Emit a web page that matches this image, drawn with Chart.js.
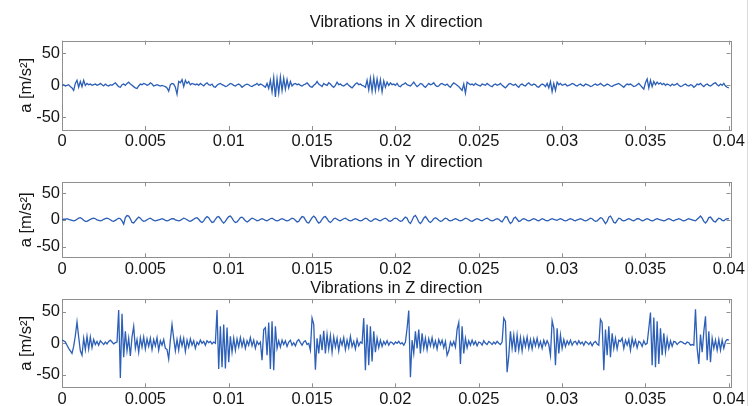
<!DOCTYPE html>
<html>
<head>
<meta charset="utf-8">
<script src="https://cdn.jsdelivr.net/npm/chart.js@4.4.1/dist/chart.umd.min.js"></script>
<style>
  html, body { margin: 0; padding: 0; background: #fff; }
  #wrap { position: relative; width: 752px; height: 406px; overflow: hidden; background: #fff; }
  #wrap canvas { position: absolute; left: 0; }
  #edge { position: absolute; left: 747px; top: 0; width: 1px; height: 406px; background: #dadada; }
</style>
</head>
<body>
<div id="wrap">
  <canvas id="chartX" width="752" height="152" style="top:0px"></canvas>
  <canvas id="chartY" width="752" height="124" style="top:152px"></canvas>
  <canvas id="chartZ" width="752" height="130" style="top:276px"></canvas>
  <div id="edge"></div>
</div>
<script>
// accelerometer record, one sample every 0.1 ms (0 .. 0.04 s)
const SAMPLE_STEP = 0.0001;

const xTickValues = [0, 0.005, 0.01, 0.015, 0.02, 0.025, 0.03, 0.035, 0.04];
const xTickLabels = ['0', '0.005', '0.01', '0.015', '0.02', '0.025', '0.03', '0.035', '0.04'];
const yTickValues = [-50, 0, 50];
const yTickLabels = ['-50', '0', '50'];

const titles = ['Vibrations in X direction', 'Vibrations in Y direction', 'Vibrations in Z direction'];
const yAxisTitle = 'a [m/s\u00B2]';

const accelX = [
  0, 1, -1, 0, 1, -2, -4, -8, 3, 8,
  -3, 6, -2, 8, 0, 3, 1, 2, 0, 1,
  2, 0, 1, 3, 1, -1, 2, 0, -1, 1,
  0, 2, 4, 1, -2, -3, 1, 2, 0, 3,
  5, 2, 0, -2, -4, -5, -1, 2, 1, 3,
  2, 0, 1, 4, 2, -1, 0, 1, 0, -1,
  0, -1, -2, -4, -9, 1, 3, 2, -3, -14,
  6, 4, 9, -2, 8, 3, 6, 1, 3, 2,
  1, 2, 0, 3, 1, -1, 2, 4, 1, 0,
  2, -2, -3, 0, 2, 3, 1, 0, -2, -1,
  1, 3, 2, 0, -1, 1, 2, 0, -3, -1,
  1, 2, 1, -1, -2, 0, 1, 3, 0, 2,
  1, -1, -3, 3, -5, 8, -10, 12, -18, 10,
  -12, 13, -8, 11, -6, 9, -4, 6, -1, 2,
  3, 1, 2, 0, -1, 1, 2, 4, 1, -2,
  -3, 0, 2, 6, 2, 0, -2, 3, 1, 0,
  4, 2, -1, -3, 0, 5, 1, 2, 0, -1,
  1, 3, 0, -2, -4, -1, 2, 4, 1, 2,
  0, -1, -3, 8, -7, 11, -9, 12, -8, 10,
  -6, 9, -10, 7, -3, 5, 0, 4, 1, 2,
  0, 3, -1, -2, 1, 2, 4, 1, 0, -1,
  2, 5, 1, -2, 0, 3, 2, -1, -3, 0,
  3, 1, 2, 4, 0, -2, -1, 2, 3, 1,
  0, 2, -1, -3, 1, 4, 2, 0, -2, -5,
  -8, 2, -12, 5, 3, 1, 2, 0, 3, 1,
  0, -1, 2, 1, 0, 3, 1, -1, -2, 1,
  2, 0, 1, 3, 0, -2, -4, -1, 2, 3,
  1, 0, 2, -1, -3, 1, 2, 0, -1, 2,
  4, 1, 0, 2, 1, -2, -3, 0, 2, 1,
  -2, 3, -4, 6, -10, 3, -8, 5, 1, 3,
  0, 1, 2, -1, 0, 1, 3, 2, 0, -1,
  1, 2, 0, -1, 2, 1, 0, -2, -1, 1,
  2, 0, 1, 3, 1, -1, 0, 2, 1, -1,
  -2, 0, 1, 2, 3, 1, -1, -3, 0, 2,
  1, 2, 0, -2, -1, 1, 3, 0, -3, -6,
  4, 10, -4, 8, -2, 6, 1, 5, 2, 4,
  1, 3, 0, 2, 1, -1, 2, 0, 1, 3,
  0, -2, -1, 1, 2, 0, -1, 1, 0, -3,
  -1, 2, 1, 3, 0, -2, 1, 2, 0, -1,
  1, 3, 4, 1, -1, 2, 0, 3, -1, -3,
  -4,
];

const accelY = [
  0, 1, 1, 2, 1, 0, -1, -2, -1, 1,
  3, 4, 2, -1, -3, -3, -1, 1, 2, 3,
  2, 0, -1, -2, -1, 1, 2, 3, 2, 0,
  -2, -3, -1, 1, 3, 2, -2, -8, 4, 8,
  7, 2, -5, -6, -2, 2, 5, 3, -1, -3,
  -2, 0, 2, 3, 1, -1, -2, -1, 0, 1,
  2, 1, -1, -2, -1, 1, 2, 2, 0, -1,
  -2, -1, 1, 3, 2, 0, -2, -3, -1, 1,
  3, 4, 1, -3, -5, -2, 3, 6, 4, -1,
  -5, -4, 1, 5, 6, 2, -3, -6, -3, 2,
  6, 7, 3, -2, -5, -4, 0, 4, 5, 2,
  -2, -4, -2, 1, 3, 2, 0, -2, -1, 1,
  2, 1, -1, -2, 0, 2, 3, 1, -1, -2,
  -1, 1, 2, 1, -1, -2, -1, 1, 3, 2,
  -1, -4, -3, 2, 6, 5, 0, -5, -6, -1,
  4, 7, 4, -2, -6, -4, 1, 5, 6, 2,
  -3, -5, -2, 2, 3, 1, -1, -2, 0, 2,
  3, 1, -1, -2, -1, 1, 2, 1, -1, -2,
  -1, 1, 3, 2, -1, -3, -2, 1, 2, 1,
  -1, -2, 0, 2, 3, 1, -2, -3, -1, 2,
  3, 2, -1, -3, -2, 2, 5, 3, -4, -7,
  -1, 6, 8, 3, -4, -7, -3, 3, 6, 2,
  -3, -5, -2, 2, 4, 2, -1, -3, -2, 1,
  3, 2, -1, -2, -1, 1, 2, 1, -1, -2,
  -1, 1, 3, 2, 0, -2, -3, -1, 1, 2,
  1, -1, -2, 0, 2, 3, 1, -1, -2, -1,
  1, 2, 1, -2, -4, 1, 6, 5, -2, -7,
  -4, 3, 5, 1, -3, -2, 1, 2, 1, -1,
  -2, -1, 1, 2, 1, -1, -2, 0, 2, 1,
  -1, -2, -1, 1, 2, 1, 0, -1, 1, 2,
  1, -1, -2, -1, 1, 2, 1, -1, -2, 0,
  1, 2, 1, -1, -2, -1, 1, 3, 2, -1,
  -3, -2, 1, 4, 3, -2, -7, -3, 5, 7,
  2, -5, -6, -1, 3, 2, -1, -2, -1, 1,
  2, 1, -1, -2, 0, 2, 2, 0, -2, -1,
  1, 2, 1, -1, -2, -1, 1, 2, 1, 0,
  -1, -2, -1, 1, 2, 1, -1, -2, 0, 1,
  2, 1, -1, -2, -1, 1, 2, 1, 0, -1,
  -2, 1, 4, 7, 3, -3, -6, -2, 4, 5,
  1, -3, -4, 0, 3, 2, -1, -2, 1, 2,
  2,
];

const accelZ = [
  5, 4, 2, -3, -8, -12, -16, -5, 12, 34,
  10, -12, -19, 8, -10, 11, -9, 10, -7, 6,
  -2, 3, -3, 4, 1, -2, 2, -1, 3, 5,
  2, -1, 1, 2, 53, -55, 47, -22, 19, -12,
  8, -20, 10, 27, -8, 6, -14, 9, -6, 10,
  -9, 7, -5, 8, -10, 6, -4, 9, -11, 4,
  -3, 6, -8, -10, -25, 5, 30, 8, -12, 6,
  -11, 9, -4, 8, -13, 5, -6, 7, -3, 4,
  -8, 2, -2, 5, 0, 3, -3, 4, 1, 3,
  -1, 2, 0, 53, -41, 27, -38, 30, -40, 25,
  -30, 11, -14, 8, -11, 7, -6, 9, -5, 6,
  -8, 4, -3, 9, -4, 5, -8, 3, -2, 2,
  -27, 22, 25, -19, 33, -41, 35, -43, 27, -8,
  4, -6, 5, -2, 4, -5, 2, 5, -3, 1,
  -4, 3, 6, 1, -3, 2, 4, -2, 0, -11,
  40, 30, -42, 8, -16, 14, -11, 20, -16, 14,
  -9, 12, -14, 10, -6, 8, -12, 6, -3, 9,
  -10, 5, -7, 11, -5, 3, -9, 6, -4, 2,
  0, 40, -43, 30, -35, 27, -29, 19, -14, 8,
  -7, 5, -5, 3, -2, 4, -3, 2, 1, -2,
  2, 0, 3, -1, 1, -3, 2, 24, 52, -54,
  5, -16, 19, -8, 22, -16, 16, -8, 8, -10,
  7, -4, 9, -6, 4, -9, 6, -2, 5, -7,
  3, -19, -12, 2, -4, 3, -6, 22, 33, -33,
  27, -16, 8, -7, 4, -3, 5, -2, 3, -4,
  2, 1, -3, 4, 0, -2, 3, 1, -2, 2,
  -1, 3, 0, -2, 2, 40, 35, -46, -20, 19,
  -8, 13, -14, 13, -11, 9, -12, 8, -5, 10,
  -8, 6, -9, 7, -4, 8, -6, 3, -8, 5,
  -3, 4, -2, -19, 36, 24, -35, 24, -16, 13,
  -8, 6, -5, 4, -2, 5, -3, 2, 3, -2,
  4, -1, 2, -3, 3, 1, -2, 2, -4, 1,
  3, -1, -3, 38, 33, -43, 22, -19, 27, -22,
  16, -8, 8, -9, 5, 3, 8, -8, 5, -3,
  6, -11, 8, -4, 5, -7, 3, 1, -5, 4,
  -2, 0, 24, 49, -35, 41, -38, 35, -33, 24,
  -19, 16, -14, 8, -8, 4, -5, 3, 2, -2,
  1, 3, 2, 0, -1, 2, 1, -3, -2, -3,
  54, -8, -33, 14, -14, 19, 43, -27, 19, -30,
  8, -8, 5, -11, 6, -11, 5, -8, 3, 6,
  5,
];

const LINE_COLOR = '#2c5fb7';
const FRAME_COLOR = '#8f8f8f';
const TEXT_COLOR = '#151515';
const FONT_FAMILY = "'Liberation Sans', Arial, Helvetica, sans-serif";
const TICK_LEN = 4;

// MATLAB style box with inward tick marks on all four sides
const frameTicks = {
  id: 'frameTicks',
  beforeDatasetsDraw(chart) {
    const { ctx, chartArea: a, scales: { x, y } } = chart;
    ctx.save();
    ctx.strokeStyle = FRAME_COLOR;
    ctx.lineWidth = 1;
    ctx.beginPath();
    x.ticks.forEach((t) => {
      const px = Math.round(x.getPixelForValue(t.value)) + 0.5;
      ctx.moveTo(px, a.bottom);
      ctx.lineTo(px, a.bottom - TICK_LEN);
      ctx.moveTo(px, a.top);
      ctx.lineTo(px, a.top + TICK_LEN);
    });
    y.ticks.forEach((t) => {
      const py = Math.round(y.getPixelForValue(t.value)) + 0.5;
      ctx.moveTo(a.left, py);
      ctx.lineTo(a.left + TICK_LEN, py);
      ctx.moveTo(a.right, py);
      ctx.lineTo(a.right - TICK_LEN, py);
    });
    ctx.stroke();
    ctx.strokeRect(Math.round(a.left) + 0.5, Math.round(a.top) + 0.5,
      Math.round(a.right - a.left), Math.round(a.bottom - a.top));
    ctx.restore();
  },
};

function drawPanel(canvasId, title, values, pad) {
  const points = values.map((v, i) => ({ x: i * SAMPLE_STEP, y: v }));
  // eslint-disable-next-line no-undef
  return new Chart(document.getElementById(canvasId), {
    type: 'line',
    data: {
      datasets: [{
        data: points,
        borderColor: LINE_COLOR,
        borderWidth: 1.3,
        pointRadius: 0,
        tension: 0,
        fill: false,
      }],
    },
    plugins: [frameTicks],
    options: {
      responsive: false,
      animation: false,
      devicePixelRatio: 1,
      layout: { padding: { left: 0, right: 21.5, top: 0, bottom: 0 } },
      plugins: {
        legend: { display: false },
        tooltip: { enabled: false },
        title: {
          display: true,
          text: title,
          fullSize: false,
          color: TEXT_COLOR,
          font: { family: FONT_FAMILY, size: 16.5, weight: 'normal', lineHeight: 1.2 },
          padding: { top: pad.titleTop, bottom: pad.titleBottom },
        },
      },
      scales: {
        x: {
          type: 'linear',
          min: 0,
          max: 0.0401,
          grid: { display: false, drawTicks: false },
          border: { display: false },
          afterBuildTicks: (scale) => {
            scale.ticks = xTickValues.map((value) => ({ value }));
          },
          afterFit: (scale) => {
            scale.height = pad.axisHeight;
          },
          ticks: {
            autoSkip: false,
            maxRotation: 0,
            padding: 2,
            color: TEXT_COLOR,
            font: { family: FONT_FAMILY, size: 16.5 },
            callback: (value, index) => xTickLabels[index],
          },
        },
        y: {
          min: -70,
          max: 70,
          grid: { display: false, drawTicks: false },
          border: { display: false },
          afterBuildTicks: (scale) => {
            scale.ticks = yTickValues.map((value) => ({ value }));
          },
          afterFit: (scale) => {
            scale.width = 62;
          },
          ticks: {
            padding: 2,
            color: TEXT_COLOR,
            font: { family: FONT_FAMILY, size: 16.5 },
            callback: (value, index) => yTickLabels[index],
          },
          title: {
            display: true,
            text: yAxisTitle,
            color: TEXT_COLOR,
            font: { family: FONT_FAMILY, size: 16.5 },
            padding: { top: 17, bottom: 0 },
          },
        },
      },
    },
  });
}

drawPanel('chartX', titles[0], accelX, { titleTop: 12.4, titleBottom: 8.5, axisHeight: 22 });
drawPanel('chartY', titles[1], accelY, { titleTop: 0.9, titleBottom: 9.6, axisHeight: 18.7 });
drawPanel('chartZ', titles[2], accelZ, { titleTop: 2.4, titleBottom: 1.1, axisHeight: 18.7 });
</script>
</body>
</html>
